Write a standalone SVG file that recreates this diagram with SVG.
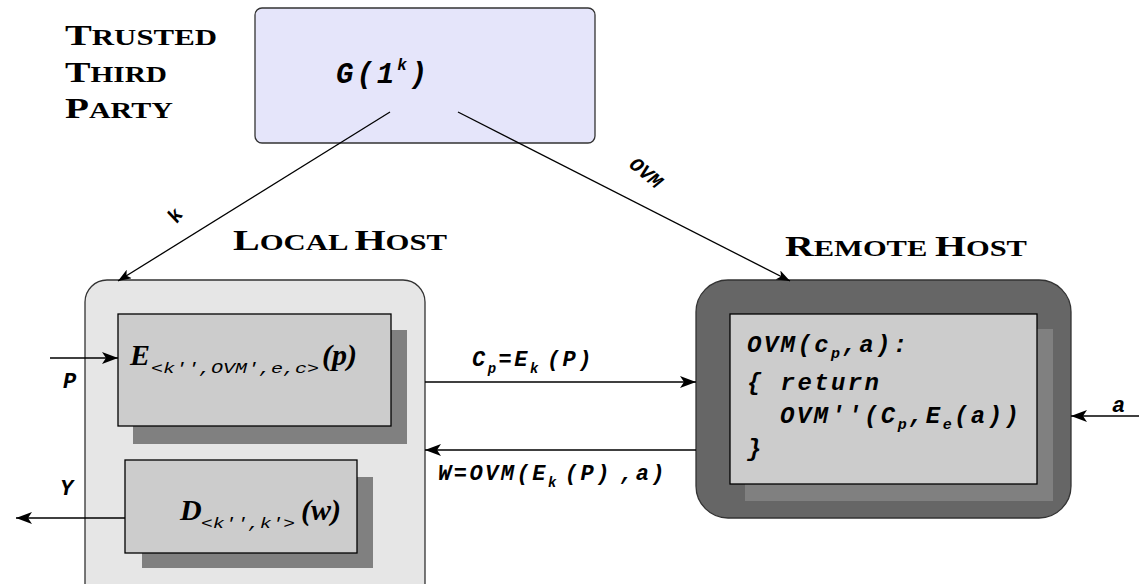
<svg xmlns="http://www.w3.org/2000/svg" width="1139" height="584" viewBox="0 0 1139 584">
  <defs>
    <marker id="arrow" viewBox="0 0 16 12" refX="16" refY="6" markerWidth="16" markerHeight="12" markerUnits="userSpaceOnUse" orient="auto">
      <path d="M0,0 L16,6 L0,12 L4,6 Z" fill="#000"/>
    </marker>
    <marker id="arrowSmall" viewBox="0 0 16 12" refX="16" refY="6" markerWidth="14" markerHeight="10" markerUnits="userSpaceOnUse" orient="auto">
      <path d="M0,0 L16,6 L0,12 L4,6 Z" fill="#000"/>
    </marker>
  </defs>
  <style>
    .title { font-family: "Liberation Serif", "DejaVu Serif", serif; font-weight: bold; fill: #000; }
    .code { font-family: "Liberation Mono", "DejaVu Sans Mono", monospace; font-weight: bold; font-style: italic; fill: #000; }
    .math { font-family: "Liberation Serif", "DejaVu Serif", serif; font-weight: bold; font-style: italic; fill: #000; }
    .sub { font-family: "Liberation Mono", "DejaVu Sans Mono", monospace; font-style: italic; fill: #000; }
    .edge { fill: none; stroke: #000; stroke-width: 1.3; }
    .inner { fill: #cccccc; stroke: #000; stroke-width: 1.3; }
    .shadow { fill: #808080; }
  </style>
  <rect width="1139" height="584" fill="#fff"/>

  <!-- headings -->
  <g id="heading-ttp" class="title">
    <text x="65" y="45" font-size="30" textLength="152" lengthAdjust="spacingAndGlyphs">T<tspan font-size="23">RUSTED</tspan></text>
    <text x="65" y="82" font-size="30" textLength="102" lengthAdjust="spacingAndGlyphs">T<tspan font-size="23">HIRD</tspan></text>
    <text x="65" y="118" font-size="30" textLength="108" lengthAdjust="spacingAndGlyphs">P<tspan font-size="23">ARTY</tspan></text>
  </g>
  <g id="heading-local" class="title">
    <text x="233" y="250" font-size="30" textLength="214" lengthAdjust="spacingAndGlyphs">L<tspan font-size="23">OCAL </tspan>H<tspan font-size="23">OST</tspan></text>
  </g>
  <g id="heading-remote" class="title">
    <text x="785" y="256" font-size="30" textLength="242" lengthAdjust="spacingAndGlyphs">R<tspan font-size="23">EMOTE </tspan>H<tspan font-size="23">OST</tspan></text>
  </g>

  <!-- trusted third party: key generator -->
  <g id="ttp">
    <rect x="255" y="8" width="340" height="135" rx="7" fill="#e5e5fa" stroke="#333" stroke-width="1.3"/>
    <text class="code" x="336" y="83" font-size="29" letter-spacing="3">G(1<tspan font-size="16" dy="-13">k</tspan><tspan dy="13">)</tspan></text>
  </g>

  <!-- local host -->
  <g id="local-host">
    <rect x="85" y="280" width="340" height="330" rx="22" fill="#e6e6e6" stroke="#333" stroke-width="1.3"/>
  </g>
  <g id="encrypt">
    <rect class="shadow" x="133" y="330" width="274" height="114"/>
    <rect class="inner" x="118" y="314" width="273" height="112"/>
    <text x="130" y="365"><tspan class="math" font-size="30">E</tspan><tspan class="sub" font-size="14" dy="8" x="151" textLength="168" lengthAdjust="spacingAndGlyphs">&lt;k'',OVM',e,c&gt;</tspan><tspan class="math" font-size="30" dy="-8" x="322">(p)</tspan></text>
  </g>
  <g id="decrypt">
    <rect class="shadow" x="142" y="477" width="231" height="91"/>
    <rect class="inner" x="125" y="460" width="232" height="93"/>
    <text x="180" y="520"><tspan class="math" font-size="30">D</tspan><tspan class="sub" font-size="14" dy="8" x="201" textLength="94" lengthAdjust="spacingAndGlyphs">&lt;k'',k'&gt;</tspan><tspan class="math" font-size="30" dy="-8" x="301">(w)</tspan></text>
  </g>

  <!-- remote host -->
  <g id="remote-host">
    <rect x="696" y="280" width="375" height="238" rx="32" fill="#666666" stroke="#333" stroke-width="1.3"/>
  </g>
  <g id="ovm">
    <rect x="745" y="329" width="308" height="172" fill="#808080"/>
    <rect class="inner" x="730" y="314" width="307" height="170"/>
    <g class="code" font-size="24" letter-spacing="2.4">
      <text x="747" y="352">OVM(c<tspan font-size="15" dy="6">p</tspan><tspan dy="-6">,a):</tspan></text>
      <text x="747" y="390">{ return</text>
      <text x="780" y="423">OVM''(C<tspan font-size="15" dy="6">p</tspan><tspan dy="-6">,E</tspan><tspan font-size="15" dy="6">e</tspan><tspan dy="-6">(a))</tspan></text>
      <text x="747" y="456">}</text>
    </g>
  </g>

  <!-- connectors -->
  <g id="connectors">
    <line class="edge" x1="390" y1="112" x2="118" y2="281" marker-end="url(#arrowSmall)"/>
    <line class="edge" x1="458" y1="112" x2="790" y2="281" marker-end="url(#arrowSmall)"/>
    <line class="edge" x1="50" y1="358" x2="118" y2="358" marker-end="url(#arrow)"/>
    <line class="edge" x1="125" y1="518" x2="16" y2="518" marker-end="url(#arrow)"/>
    <line class="edge" x1="425" y1="382" x2="696" y2="382" marker-end="url(#arrow)"/>
    <line class="edge" x1="696" y1="450" x2="425" y2="450" marker-end="url(#arrow)"/>
    <line class="edge" x1="1139" y1="416" x2="1071" y2="416" marker-end="url(#arrow)"/>

    <text class="code" font-size="20" transform="translate(177,224) rotate(-55)">k</text>
    <text class="code" font-size="20" transform="translate(628,166) rotate(40)">OVM</text>
    <text class="code" x="63" y="388" font-size="22">P</text>
    <text class="code" x="60" y="495" font-size="22">Y</text>
    <text class="code" x="1112" y="412" font-size="22">a</text>
    <text class="code" x="472" y="366" font-size="22" letter-spacing="2.5">C<tspan font-size="14" dy="7">p</tspan><tspan dy="-7">=E</tspan><tspan font-size="14" dy="7">k</tspan><tspan dy="-7" dx="6">(P)</tspan></text>
    <text class="code" x="438" y="480" font-size="22" letter-spacing="2.5">W=OVM(E<tspan font-size="14" dy="7">k</tspan><tspan dy="-7" dx="6">(P)</tspan><tspan dx="8">,a)</tspan></text>
  </g>
</svg>
